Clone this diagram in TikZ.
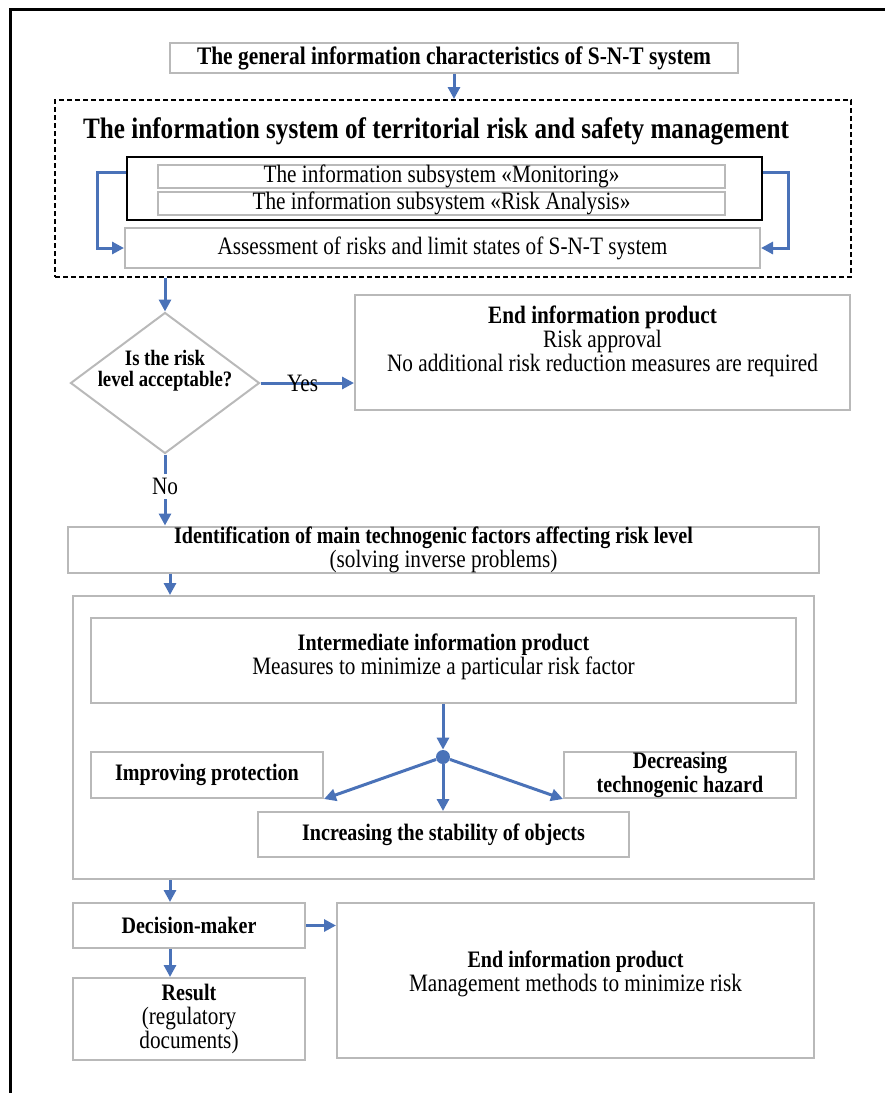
\documentclass[tikz,border=0pt]{standalone}
\usepackage{fontspec}
\setmainfont{Liberation Serif}[FakeStretch=0.85]
\usetikzlibrary{arrows.meta,shapes.geometric}
\definecolor{flowblue}{HTML}{4A72B8}
\definecolor{boxgray}{HTML}{B9B9B9}
\tikzset{
  graybox/.style={draw=boxgray, line width=1pt, inner sep=0pt, align=center},
  flow/.style={draw=flowblue, line width=1.5pt},
  normtxt/.style={font=\fontsize{12.5}{12}\selectfont},
  boldtxt/.style={font=\fontsize{11.8}{12}\selectfont\bfseries},
}
\begin{document}
\begin{tikzpicture}[x=0.5pt, y=-0.5pt, line join=miter, >={Triangle[length=6pt,width=6pt]}, normtxt]
\useasboundingbox (0,0) rectangle (885,1093);
\draw[line width=1.5pt] (10,1093) -- (10,9) -- (885,9);

% upper part
\node[graybox, minimum width=284pt, minimum height=15pt, font=\fontsize{12.6}{13}\selectfont\bfseries] (top) at (454,58) {The general information characteristics of S-N-T system};
\node[draw, dashed, dash pattern=on 2.5pt off 1.5pt, line width=1pt, minimum width=398pt, minimum height=88.5pt] (isys) at (453,188.5) {};
\node[font=\fontsize{14.8}{16}\selectfont\bfseries] (isystitle) at (436,131) {The information system of territorial risk and safety management};
\node[draw, line width=1.2pt, minimum width=317.5pt, minimum height=31.5pt] (blackbox) at (444.5,188.5) {};
\node[graybox, minimum width=283.5pt, minimum height=11.5pt] (mon) at (441.5,176.5) {The information subsystem «Monitoring»};
\node[graybox, minimum width=283.5pt, minimum height=10.5pt] (ra) at (441.5,203.5) {The information subsystem «Risk Analysis»};
\node[graybox, minimum width=317.5pt, minimum height=20pt] (assess) at (442.5,248) {Assessment of risks and limit states of S-N-T system};
\coordinate (lout) at (97,172);
\coordinate (rout) at (788,172);
\draw[flow,->] (blackbox.west |- lout) -- (lout) |- (assess.west);
\draw[flow,->] (blackbox.east |- rout) -- (rout) |- (assess.east);
\draw[flow,->] (top.south) -- (top.south |- isys.north);

% decision
\node[diamond, draw=boxgray, line width=1pt, inner sep=0pt, minimum width=94.5pt, minimum height=70.5pt] (quest) at (165,383) {};
\node[align=center, font=\fontsize{11}{10.5}\selectfont\bfseries] (questtxt) at (165,371) {Is the risk\\level acceptable?};
\node[graybox, minimum width=247.5pt, minimum height=57.5pt] (endok) at (602.5,352.5) {\textbf{End information product}\\Risk approval\\No additional risk reduction measures are required\\[1.5pt]};
\draw[flow,->] (isys.south -| quest) -- (quest.north);
\draw[flow,->] (quest.east) -- node[pos=0.45, inner sep=0pt] {Yes} (quest.east -| endok.west);

% measures
\node[graybox, minimum width=375.5pt, minimum height=22.5pt] (ident) at (443.5,549.5) {{\fontsize{11.8}{12}\selectfont\bfseries Identification of main technogenic factors affecting risk level}\hspace*{10pt}\\(solving inverse problems)};
\draw[flow,->] (quest.south) -- node[pos=0.45, fill=white, inner sep=2pt] {No} (quest.south |- ident.north);
\coordinate (lane) at (170,0);
\node[graybox, minimum width=370.5pt, minimum height=141.5pt] (bigbox) at (443.5,737.5) {};
\node[graybox, minimum width=352.5pt, minimum height=42.5pt] (inter) at (443.5,660.5) {{\fontsize{11.8}{12}\selectfont\bfseries Intermediate information product}\\Measures to minimize a particular risk factor\\[-5.5pt]};
\node[circle, fill=flowblue, minimum size=7pt, inner sep=0pt] (hub) at (443,757) {};
\node[graybox, minimum width=116pt, minimum height=23pt, boldtxt] (protect) at (207,775) {Improving protection};
\node[graybox, minimum width=116pt, minimum height=23pt, boldtxt] (hazard) at (680,775) {Decreasing\\technogenic hazard};
\node[graybox, minimum width=185.5pt, minimum height=22.5pt, boldtxt] (stab) at (443.5,834.5) {Increasing the stability of objects};
\draw[flow,->] (ident.south -| lane) -- (bigbox.north -| lane);
\draw[flow,->] (inter.south -| hub) -- (hub.north);
\draw[flow,->] (hub) -- (protect.south east);
\draw[flow,->] (hub) -- (hazard.south west);
\draw[flow,->] (hub) -- (stab.north -| hub);

% result
\node[graybox, minimum width=116pt, minimum height=22.5pt, boldtxt] (decide) at (189,925.5) {Decision-maker};
\node[graybox, minimum width=238.5pt, minimum height=77.5pt] (endfin) at (575.5,980.5) {{\fontsize{11.8}{12}\selectfont\bfseries End information product}\\Management methods to minimize risk\\[-3pt]};
\node[graybox, minimum width=116pt, minimum height=41pt] (result) at (189,1019) {{\fontsize{11.8}{12}\selectfont\bfseries Result}\\(regulatory\\documents)};
\draw[flow,->] (bigbox.south -| lane) -- (decide.north -| lane);
\draw[flow,->] (decide.east) -- (decide.east -| endfin.west);
\draw[flow,->] (decide.south -| lane) -- (result.north -| lane);
\end{tikzpicture}
\end{document}
